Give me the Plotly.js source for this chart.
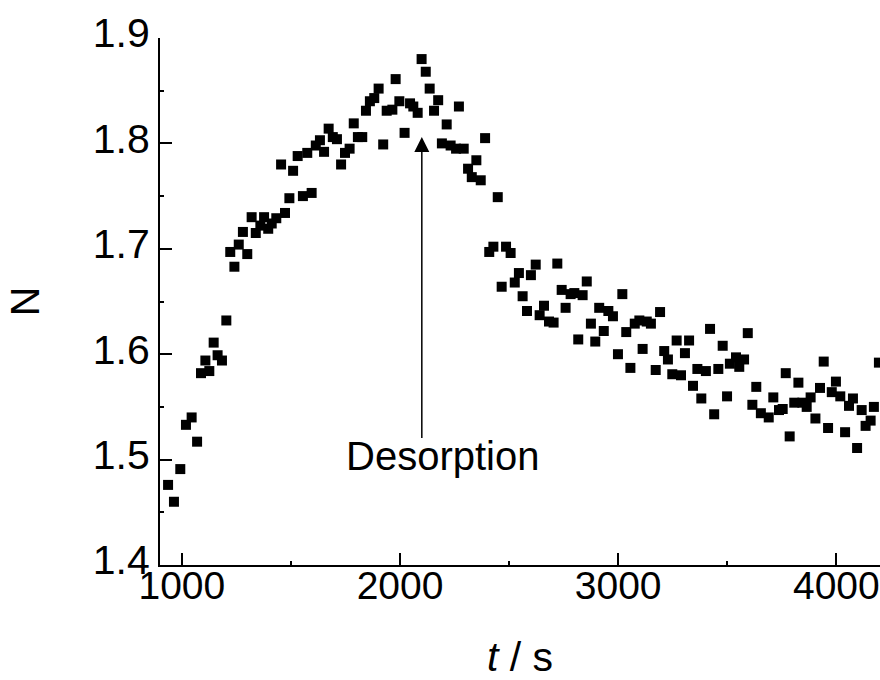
<!DOCTYPE html>
<html>
<head>
<meta charset="utf-8">
<script src="https://cdn.plot.ly/plotly-3.0.1.min.js"></script>
<style>html,body{margin:0;padding:0;background:#fff;}#chart{width:880px;height:680px;}</style>
</head>
<body>
<div id="chart"></div>
<script>
// time in s
const timeS = [937,964,993,1019,1045,1070,1088,1108,1126,1146,1164,1184,1204,1222,1241,1261,1280,1300,1320,1339,
1360,1377,1396,1412,1433,1455,1473,1493,1510,1531,1555,1575,1595,1614,1633,1652,1673,1692,1711,1730,
1748,1769,1788,1807,1827,1844,1862,1882,1902,1923,1939,1965,1980,1997,2021,2046,2061,2081,2099,2118,
2136,2156,2175,2192,2214,2232,2257,2270,2292,2312,2329,2350,2370,2390,2409,2428,2448,2466,2486,2507,
2526,2545,2562,2582,2600,2622,2640,2660,2683,2704,2721,2741,2759,2782,2799,2817,2837,2856,2875,2895,
2913,2934,2955,2976,2999,3019,3037,3056,3076,3097,3112,3131,3150,3172,3192,3211,3228,3248,3268,3288,
3306,3325,3343,3363,3381,3402,3421,3440,3459,3479,3499,3512,3540,3555,3577,3594,3615,3633,3654,3690,
3711,3737,3754,3768,3786,3807,3826,3844,3864,3882,3904,3925,3942,3962,3979,3998,4018,4040,4058,4076,
4095,4116,4134,4157,4172,4195];
// N values
const nValues = [1.476,1.460,1.491,1.533,1.540,1.517,1.582,1.594,1.584,1.611,1.599,1.594,1.632,1.697,1.683,1.704,1.716,1.695,1.730,1.715,
1.722,1.730,1.719,1.724,1.729,1.780,1.734,1.748,1.774,1.788,1.750,1.791,1.753,1.798,1.803,1.792,1.814,1.806,1.804,1.780,
1.791,1.795,1.819,1.806,1.806,1.831,1.840,1.843,1.852,1.799,1.831,1.832,1.861,1.840,1.810,1.838,1.835,1.829,1.880,1.868,
1.852,1.831,1.841,1.800,1.818,1.798,1.795,1.835,1.795,1.776,1.768,1.784,1.765,1.805,1.697,1.702,1.749,1.664,1.702,1.696,
1.668,1.677,1.655,1.641,1.675,1.685,1.637,1.646,1.631,1.630,1.686,1.661,1.644,1.657,1.658,1.614,1.656,1.669,1.629,1.612,
1.644,1.622,1.641,1.636,1.600,1.657,1.621,1.587,1.629,1.632,1.605,1.631,1.629,1.585,1.640,1.603,1.595,1.581,1.613,1.580,
1.601,1.613,1.570,1.586,1.558,1.584,1.624,1.543,1.586,1.608,1.560,1.591,1.597,1.588,1.595,1.620,1.552,1.569,1.544,1.540,
1.559,1.547,1.548,1.582,1.522,1.554,1.573,1.554,1.550,1.559,1.539,1.568,1.593,1.530,1.564,1.574,1.560,1.526,1.551,1.558,
1.511,1.547,1.532,1.537,1.550,1.592];
const xTicks = [1000,2000,3000,4000];
const xTickText = ['1000','2000','3000','4000'];
const yTicks = [1.4,1.5,1.6,1.7,1.8,1.9];
const yTickText = ['1.4','1.5','1.6','1.7','1.8','1.9'];
const arrowLabel = 'Desorption';

const FONT = 'Liberation Sans, Arial, Helvetica, sans-serif';
const trace = {
  x: timeS, y: nValues, type: 'scatter', mode: 'markers',
  marker: {symbol: 'square', size: 10, color: '#000'},
  hoverinfo: 'x+y'
};
const layout = {
  width: 880, height: 680,
  margin: {l: 160, r: 0, t: 38, b: 115},
  paper_bgcolor: '#fff', plot_bgcolor: '#fff',
  showlegend: false,
  font: {family: FONT, color: '#000', size: 41},
  xaxis: {
    range: [900, 4200], showgrid: false, zeroline: false,
    showline: true, linecolor: '#000', linewidth: 2,
    ticks: 'inside', ticklen: 12, tickwidth: 2, tickcolor: '#000',
    tickvals: xTicks, ticktext: xTickText,
    tickfont: {family: FONT, size: 39, color: '#000'},
    ticklabeloverflow: 'allow', ticklabelstandoff: -15,
    minor: {ticks: 'inside', ticklen: 4, tickwidth: 2, tickcolor: '#000', dtick: 500, tick0: 1000, showgrid: false},
    title: {text: '<i>t</i> / s', font: {family: FONT, size: 41, color: '#000'}, standoff: 48},
    fixedrange: true
  },
  yaxis: {
    range: [1.4, 1.9], showgrid: false, zeroline: false,
    showline: true, linecolor: '#000', linewidth: 2,
    ticks: 'inside', ticklen: 12, tickwidth: 2, tickcolor: '#000',
    tickvals: yTicks, ticktext: yTickText,
    tickfont: {family: FONT, size: 41, color: '#000'},
    ticklabeloverflow: 'allow', ticklabelshift: -5,
    minor: {ticks: 'inside', ticklen: 4, tickwidth: 2, tickcolor: '#000', dtick: 0.05, tick0: 1.4, showgrid: false},
    title: {text: 'N', font: {family: FONT, size: 41, color: '#000'}, standoff: 40},
    fixedrange: true
  },
  annotations: [
    {x: 2100, y: 1.806, xref: 'x', yref: 'y', ax: 2100, ay: 1.519, axref: 'x', ayref: 'y',
     showarrow: true, arrowhead: 2, arrowsize: 2, arrowwidth: 1.5, arrowcolor: '#000', text: ''},
    {x: 2197, y: 1.503, xref: 'x', yref: 'y', text: arrowLabel, showarrow: false,
     font: {family: FONT, size: 40, color: '#000'}}
  ]
};
Plotly.newPlot('chart', [trace], layout, {displayModeBar: false, staticPlot: true});
</script>
</body>
</html>
